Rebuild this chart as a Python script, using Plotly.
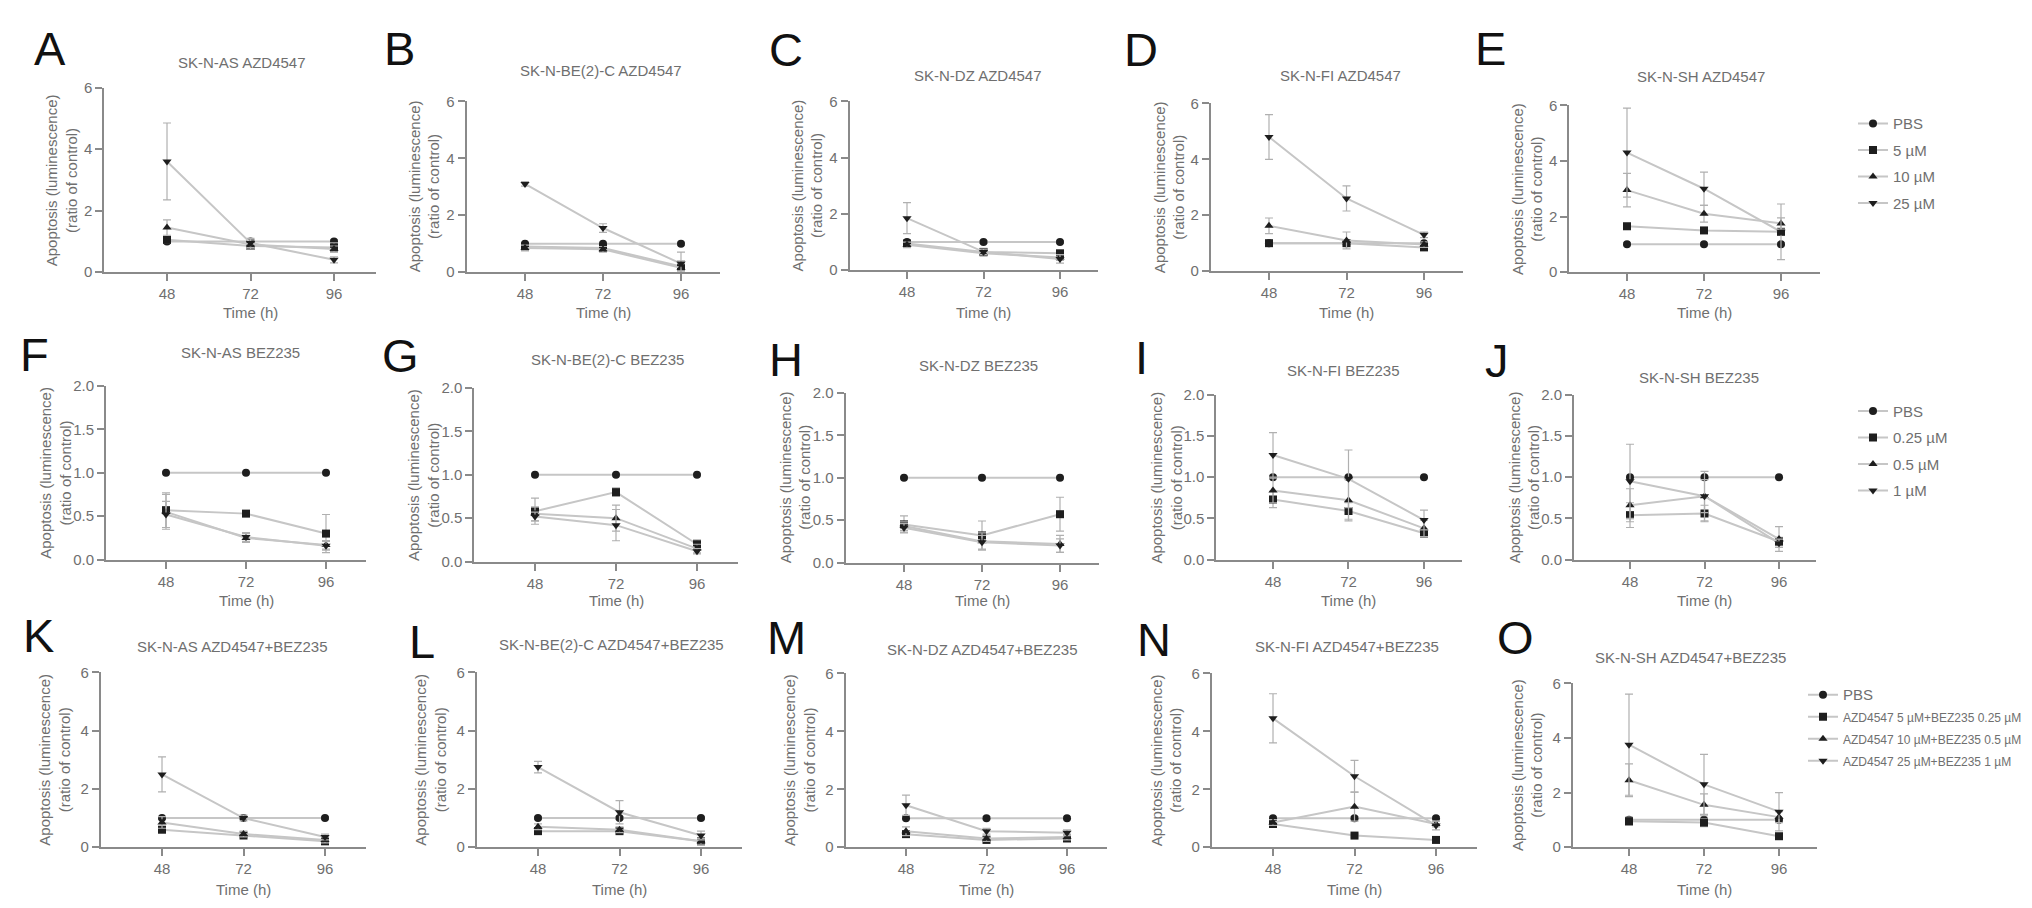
import plotly.graph_objects as go

W, H = 2032, 908

TIME_H = [48, 72, 96]

# ---------------- Row 1: AZD4547 ----------------
AZD_TITLES = ["SK-N-AS AZD4547", "SK-N-BE(2)-C AZD4547", "SK-N-DZ AZD4547",
              "SK-N-FI AZD4547", "SK-N-SH AZD4547"]
AZD_LEGEND = ["PBS", "5 µM", "10 µM", "25 µM"]
AZD_PBS = [[1.0, 1.0, 1.0], [1.0, 1.0, 1.0], [1.0, 1.0, 1.0], [1.0, 1.0, 1.0], [1.0, 1.0, 1.0]]
AZD_PBS_ERR = [[0.05, 0.05, 0.05]] * 5
AZD_5 = [[1.05, 0.85, 0.8], [0.9, 0.85, 0.2], [0.95, 0.65, 0.6], [1.0, 1.0, 0.85], [1.65, 1.5, 1.45]]
AZD_5_ERR = [[0.1, 0.1, 0.15], [0.1, 0.1, 0.2], [0.1, 0.1, 0.1], [0.05, 0.1, 0.08], [0.1, 0.1, 0.1]]
AZD_10 = [[1.45, 0.9, 0.75], [0.85, 0.8, 0.15], [0.9, 0.6, 0.45], [1.62, 1.1, 0.95], [2.95, 2.1, 1.75]]
AZD_10_ERR = [[0.25, 0.15, 0.1], [0.1, 0.1, 0.15], [0.1, 0.1, 0.1], [0.28, 0.3, 0.1], [0.6, 0.3, 0.2]]
AZD_25 = [[3.6, 0.95, 0.4], [3.1, 1.55, 0.3], [1.85, 0.65, 0.4], [4.8, 2.6, 1.3], [4.3, 3.0, 1.45]]
AZD_25_ERR = [[1.25, 0.15, 0.1], [0.08, 0.15, 0.4], [0.55, 0.1, 0.15], [0.8, 0.45, 0.1], [1.6, 0.6, 1.0]]

# ---------------- Row 2: BEZ235 ----------------
BEZ_TITLES = ["SK-N-AS BEZ235", "SK-N-BE(2)-C BEZ235", "SK-N-DZ BEZ235",
              "SK-N-FI BEZ235", "SK-N-SH BEZ235"]
BEZ_LEGEND = ["PBS", "0.25 µM", "0.5 µM", "1 µM"]
BEZ_PBS = [[1.0, 1.0, 1.0]] * 5
BEZ_PBS_ERR = [[0.01, 0.01, 0.01]] * 5
BEZ_025 = [[0.57, 0.53, 0.3], [0.58, 0.8, 0.2], [0.45, 0.32, 0.57], [0.73, 0.59, 0.32], [0.54, 0.56, 0.22]]
BEZ_025_ERR = [[0.2, 0.03, 0.22], [0.15, 0.05, 0.05], [0.1, 0.17, 0.2], [0.1, 0.1, 0.05], [0.15, 0.1, 0.05]]
BEZ_05 = [[0.55, 0.25, 0.17], [0.55, 0.5, 0.15], [0.43, 0.25, 0.22], [0.84, 0.72, 0.38], [0.66, 0.77, 0.25]]
BEZ_05_ERR = [[0.2, 0.05, 0.05], [0.08, 0.15, 0.05], [0.05, 0.1, 0.1], [0.15, 0.25, 0.1], [0.2, 0.3, 0.15]]
BEZ_1 = [[0.52, 0.26, 0.16], [0.52, 0.42, 0.12], [0.41, 0.24, 0.2], [1.27, 0.98, 0.48], [0.95, 0.77, 0.2]]
BEZ_1_ERR = [[0.15, 0.05, 0.05], [0.05, 0.18, 0.03], [0.05, 0.08, 0.08], [0.27, 0.35, 0.12], [0.45, 0.2, 0.05]]

# ---------------- Row 3: AZD4547 + BEZ235 ----------------
COMBO_TITLES = ["SK-N-AS AZD4547+BEZ235", "SK-N-BE(2)-C AZD4547+BEZ235", "SK-N-DZ AZD4547+BEZ235",
                "SK-N-FI AZD4547+BEZ235", "SK-N-SH AZD4547+BEZ235"]
COMBO_LEGEND = ["PBS", "AZD4547 5 µM+BEZ235 0.25 µM", "AZD4547 10 µM+BEZ235 0.5 µM",
                "AZD4547 25 µM+BEZ235 1 µM"]
COMBO_PBS = [[1.0, 1.0, 1.0]] * 5
COMBO_PBS_ERR = [[0.05, 0.05, 0.05]] * 5
COMBO_LOW = [[0.6, 0.4, 0.2], [0.55, 0.55, 0.2], [0.45, 0.25, 0.3], [0.8, 0.4, 0.25], [0.95, 0.9, 0.4]]
COMBO_LOW_ERR = [[0.1, 0.05, 0.05], [0.1, 0.05, 0.05], [0.1, 0.05, 0.1], [0.1, 0.05, 0.05], [0.15, 0.15, 0.1]]
COMBO_MID = [[0.85, 0.45, 0.25], [0.7, 0.6, 0.2], [0.55, 0.3, 0.35], [0.85, 1.4, 0.8], [2.45, 1.55, 1.1]]
COMBO_MID_ERR = [[0.2, 0.1, 0.1], [0.1, 0.1, 0.1], [0.15, 0.1, 0.1], [0.1, 0.5, 0.1], [0.6, 0.4, 0.2]]
COMBO_HIGH = [[2.5, 1.0, 0.35], [2.75, 1.2, 0.4], [1.45, 0.55, 0.5], [4.45, 2.45, 0.75], [3.75, 2.3, 1.3]]
COMBO_HIGH_ERR = [[0.6, 0.1, 0.1], [0.2, 0.4, 0.15], [0.35, 0.1, 0.1], [0.85, 0.55, 0.15], [1.85, 1.1, 0.7]]

PANEL_LETTERS = list("ABCDEFGHIJKLMNO")

ROWS = [
    dict(titles=AZD_TITLES, legend=AZD_LEGEND,
         series=[(AZD_PBS, AZD_PBS_ERR), (AZD_5, AZD_5_ERR), (AZD_10, AZD_10_ERR), (AZD_25, AZD_25_ERR)]),
    dict(titles=BEZ_TITLES, legend=BEZ_LEGEND,
         series=[(BEZ_PBS, BEZ_PBS_ERR), (BEZ_025, BEZ_025_ERR), (BEZ_05, BEZ_05_ERR), (BEZ_1, BEZ_1_ERR)]),
    dict(titles=COMBO_TITLES, legend=COMBO_LEGEND,
         series=[(COMBO_PBS, COMBO_PBS_ERR), (COMBO_LOW, COMBO_LOW_ERR), (COMBO_MID, COMBO_MID_ERR),
                 (COMBO_HIGH, COMBO_HIGH_ERR)]),
]

# ---------------- geometry (pixels) ----------------
# (pixel of x=48 tick, pixel of x=96 tick, pixel of y top, pixel of y=0)
GEOM = [
    [(159, 326, 72, 260), (517, 673, 86, 260), (899, 1052, 86, 258), (1261, 1416, 88, 259), (1619, 1773, 90, 260)],
    [(158, 318, 376, 553), (527, 689, 378, 555), (896, 1052, 383, 556), (1265, 1416, 385, 553), (1622, 1771, 385, 553)],
    [(154, 317, 668, 846), (530, 693, 668, 846), (898, 1059, 669, 846), (1265, 1428, 669, 846), (1621, 1771, 679, 846)],
]
TITLE_POS = [
    [(234, 46), (593, 55), (970, 60), (1332, 60), (1693, 61)],
    [(232, 342), (599, 349), (970, 355), (1335, 360), (1691, 367)],
    [(224, 642), (603, 639), (974, 645), (1339, 642), (1682, 653)],
]
LETTER_POS = [
    [(42, 32), (391, 32), (778, 33), (1133, 33), (1482, 32)],
    [(26, 344), (392, 345), (778, 349), (1133, 347), (1489, 350)],
    [(30, 630), (414, 636), (778, 632), (1146, 634), (1507, 632)],
]
XTITLE_Y = [301, 595, 889]
YTITLE_OFF = [42, 50, 46]
Y_RANGES = [(0, 6), (0, 2), (0, 6)]
Y_TICKS = [[0, 2, 4, 6], [0, 0.5, 1.0, 1.5, 2.0], [0, 2, 4, 6]]
Y_FMT = ["d", ".1f", "d"]
LEGEND_POS = [(1845, 92, 15, 4), (1845, 385, 15, 4), (1795, 676, 12, 3)]
X_RANGE = (30, 108)

SYMBOLS = ["circle", "square", "triangle-up", "triangle-down"]
TXT = "#6f6f6f"
AX = "#8a8a8a"
LINE_C = "#c6c6c6"
MARK_C = "#1e1e1e"
ERR_C = "#b0b0b0"
FONT = "Liberation Sans, Arial, sans-serif"


def px_x(p):
    return p / W


def px_y(p):
    return 1 - p / H


fig = go.Figure()
annotations = []
layout_axes = {}
legend_names = ["legend", "legend2", "legend3"]

for r, row in enumerate(ROWS):
    for c in range(5):
        idx = r * 5 + c + 1
        t48, t96, ytop, y0 = GEOM[r][c]
        s = (t96 - t48) / 48.0
        xl = t48 - (48 - X_RANGE[0]) * s
        xr = t96 + (X_RANGE[1] - 96) * s
        xa = "x" if idx == 1 else f"x{idx}"
        ya = "y" if idx == 1 else f"y{idx}"
        xkey = "xaxis" if idx == 1 else f"xaxis{idx}"
        ykey = "yaxis" if idx == 1 else f"yaxis{idx}"
        layout_axes[xkey] = dict(
            domain=[px_x(xl), px_x(xr)], range=list(X_RANGE), anchor=ya,
            tickvals=TIME_H, ticktext=[str(t) for t in TIME_H],
            showline=True, linecolor=AX, linewidth=2, ticks="outside", ticklen=7,
            tickwidth=1.5, tickcolor=AX, showgrid=False, zeroline=False,
            tickfont=dict(size=15, color=TXT, family=FONT), fixedrange=True)
        layout_axes[ykey] = dict(
            domain=[px_y(y0), px_y(ytop)], range=list(Y_RANGES[r]), anchor=xa,
            tickvals=Y_TICKS[r], tickformat=Y_FMT[r],
            showline=True, linecolor=AX, linewidth=2, ticks="outside", ticklen=7,
            tickwidth=1.5, tickcolor=AX, showgrid=False, zeroline=False,
            tickfont=dict(size=15, color=TXT, family=FONT), fixedrange=True)

        for k, (means, errs) in enumerate(row["series"]):
            label = row["legend"][k]
            if r == 2 and k == 0:
                label = "<span style='font-size:15px'>PBS</span>"
            fig.add_trace(go.Scatter(
                x=TIME_H, y=means[c], xaxis=xa, yaxis=ya,
                mode="lines+markers",
                name=label,
                legend=legend_names[r],
                legendgroup=f"r{r}s{k}",
                showlegend=(c == 4),
                line=dict(color=LINE_C, width=2),
                marker=dict(symbol=SYMBOLS[k], size=8, color=MARK_C),
                error_y=dict(type="data", array=errs[c], visible=True,
                             color=ERR_C, thickness=1.2, width=4),
                cliponaxis=False,
            ))

        # panel title
        tx, ty = TITLE_POS[r][c]
        annotations.append(dict(x=px_x(tx), y=px_y(ty), xref="paper", yref="paper",
                                text=row["titles"][c], showarrow=False,
                                xanchor="center", yanchor="middle",
                                font=dict(size=15, color=TXT, family=FONT)))
        # panel letter
        lx, ly = LETTER_POS[r][c]
        annotations.append(dict(x=px_x(lx), y=px_y(ly), xref="paper", yref="paper",
                                text=PANEL_LETTERS[r * 5 + c], showarrow=False,
                                xanchor="center", yanchor="middle",
                                font=dict(size=47, color="#111111", family=FONT)))
        # x title
        t72 = t48 + 24 * s
        annotations.append(dict(x=px_x(t72), y=px_y(XTITLE_Y[r]), xref="paper", yref="paper",
                                text="Time (h)", showarrow=False,
                                xanchor="center", yanchor="middle",
                                font=dict(size=15, color=TXT, family=FONT)))
        # y title
        annotations.append(dict(x=px_x(xl - YTITLE_OFF[r]), y=px_y((ytop + y0) / 2),
                                xref="paper", yref="paper",
                                text="Apoptosis (luminescence)<br>(ratio of control)",
                                showarrow=False, textangle=-90,
                                xanchor="center", yanchor="middle",
                                font=dict(size=15, color=TXT, family=FONT)))

legends = {}
for r, name in enumerate(legend_names):
    lx, ly, fs, gap = LEGEND_POS[r]
    legends[name] = dict(x=px_x(lx), y=px_y(ly), xanchor="left", yanchor="top",
                         xref="paper", yref="paper",
                         bgcolor="rgba(0,0,0,0)", borderwidth=0,
                         font=dict(size=fs, color=TXT, family=FONT),
                         traceorder="grouped", tracegroupgap=gap, itemwidth=30)

fig.update_layout(
    width=W, height=H,
    margin=dict(l=0, r=0, t=0, b=0),
    paper_bgcolor="white", plot_bgcolor="white",
    font=dict(family=FONT, color=TXT),
    annotations=annotations,
    **layout_axes,
    **legends,
)

fig.write_html("out.html")
